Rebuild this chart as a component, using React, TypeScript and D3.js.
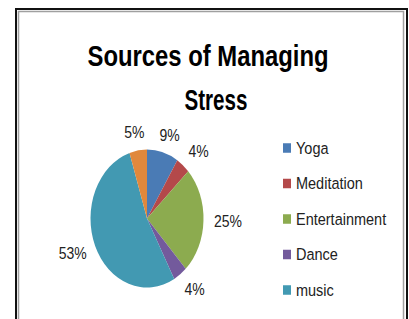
import React from 'react';
import * as d3 from 'd3';

// data
const categories = ['Yoga', 'Meditation', 'Entertainment', 'Dance', 'music', 'Other'];
const shares = [9, 4, 25, 4, 53, 5];
const colors = ['#4a7bb5', '#b4494a', '#8cab4f', '#735a9c', '#4299b2', '#e0883c'];
const legendItems = categories.slice(0, 5); // the 6th entry is cut off in the original legend
const titleLines = ['Sources of Managing', 'Stress'];

const W = 409;
const H = 319;
const cx = 147;
const cy = 218.5;
const rx = 56.5;
const ry = 69;
const stretch = ry / rx; // the whole picture is stretched vertically
const FONT = "'Liberation Sans', Arial, sans-serif";

const App = () => {
  const slices = d3
    .pie<number>()
    .sort(null)
    .value((d) => d)(shares);

  const arc = d3.arc<d3.PieArcDatum<number>>().innerRadius(0).outerRadius(rx);

  // labels sit on a larger ellipse around the pie
  const labelPos = (d: d3.PieArcDatum<number>) => {
    const a = (d.startAngle + d.endAngle) / 2;
    return [cx + 81 * Math.sin(a), cy - 87 * Math.cos(a)];
  };

  const legendY = d3
    .scalePoint<string>()
    .domain(legendItems)
    .range([148, 290]);

  return (
    <svg width={W} height={H} style={{ position: 'absolute', left: 0, top: 0 }}>
      <rect x={0} y={0} width={W} height={H} fill="#fff" />
      {/* chart frame */}
      <rect x={16} y={9} width={391} height={400} fill="none" stroke="#111" strokeWidth={2} />
      <rect x={18.5} y={11.5} width={385} height={400} fill="none" stroke="#a0a0a0" strokeWidth={1.5} />

      {/* title */}
      {titleLines.map((t, i) => (
        <text
          key={t}
          transform={`translate(${i === 0 ? 208 : 216},${i === 0 ? 65.5 : 110}) scale(1,${stretch})`}
          textAnchor="middle"
          fontFamily={FONT}
          fontWeight="bold"
          fontSize={24}
          textLength={i === 0 ? 241 : 63}
          lengthAdjust="spacingAndGlyphs"
          fill="#000"
        >
          {t}
        </text>
      ))}

      {/* pie */}
      <g transform={`translate(${cx},${cy}) scale(1,${stretch})`}>
        {slices.map((d, i) => (
          <path key={categories[i]} d={arc(d) || ''} fill={colors[i]} />
        ))}
      </g>

      {/* data labels */}
      {slices.map((d, i) => {
        const [x, y] = labelPos(d);
        return (
          <text
            key={'l' + categories[i]}
            transform={`translate(${x},${y}) scale(1,${stretch * 0.95})`}
            textAnchor="middle"
            dy="0.35em"
            fontFamily={FONT}
            fontSize={14}
            fill="#222"
          >
            {d.data}%
          </text>
        );
      })}

      {/* legend */}
      {legendItems.map((c, i) => (
        <g key={'g' + c} transform={`translate(283,${legendY(c)})`}>
          <rect x={0} y={-4.75} width={8} height={9.5} fill={colors[i]} />
          <text
            transform={`translate(13,0) scale(1,${stretch * 0.92})`}
            dy="0.35em"
            fontFamily={FONT}
            fontSize={14.5}
            fill="#222"
          >
            {c}
          </text>
        </g>
      ))}
    </svg>
  );
};

export default App;
